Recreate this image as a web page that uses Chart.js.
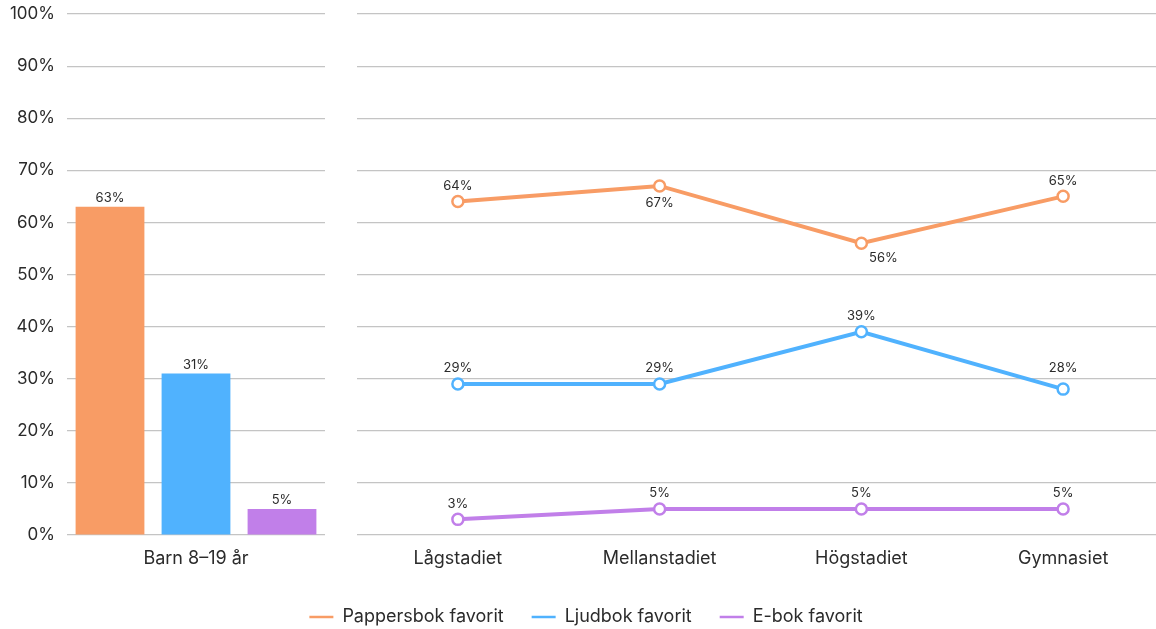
<!DOCTYPE html>
<html>
<head>
    <meta charset='utf-8'>
    <title>Favoritformat</title>
    <style>
        body { margin: 0; background: #fff; overflow: hidden; }
        #wrap { position: relative; width: 1156px; height: 629px; overflow: hidden; }
        #wrap canvas { position: absolute; top: 0; left: 0; }
    </style>
</head>
<body>
    <div id="wrap">
        <canvas id="chart-lines" width="1172" height="629"></canvas>
        <canvas id="chart-bars" width="332" height="629"></canvas>
    </div>

    <script src="https://cdn.jsdelivr.net/npm/chart.js"></script>
    <script>
// data
const barCategory = ['Barn 8–19 år'];
const stadier = ['Lågstadiet', 'Mellanstadiet', 'Högstadiet', 'Gymnasiet'];
const seriesNames = ['Pappersbok favorit', 'Ljudbok favorit', 'E-bok favorit'];
const totalPapper = [63];
const totalLjud = [31];
const totalEbok = [5];
const papper = [64, 67, 56, 65];
const ljud = [29, 29, 39, 28];
const ebok = [3, 5, 5, 5];
const yTicks = [0, 10, 20, 30, 40, 50, 60, 70, 80, 90, 100];

const colors = ['#F89C65', '#50B2FE', '#C17FE9'];
const gridColor = '#C4C4C4';
const textColor = '#2b2b2b';
const fontFamily = "Inter, 'Noto Sans', sans-serif";

// where each value label goes, per point
const papperPos = ['above', 'below', 'belowRight', 'above'];
const ljudPos = ['above', 'above', 'above', 'aboveHigh'];

const valueLabels = {
    id: 'valueLabels',
    afterDatasetsDraw(chart) {
        const ctx = chart.ctx;
        ctx.save();
        ctx.font = '13px ' + fontFamily;
        ctx.fillStyle = textColor;
        chart.data.datasets.forEach((ds, i) => {
            const meta = chart.getDatasetMeta(i);
            meta.data.forEach((el, j) => {
                const pos = (ds.labelPos && ds.labelPos[j]) || 'above';
                const txt = ds.data[j] + '%';
                ctx.textAlign = 'center';
                if (chart.config.type === 'bar') {
                    ctx.textBaseline = 'bottom';
                    ctx.fillText(txt, el.x, el.y - 2);
                } else if (pos === 'above') {
                    ctx.textBaseline = 'bottom';
                    ctx.fillText(txt, el.x, el.y - 9);
                } else if (pos === 'aboveHigh') {
                    ctx.textBaseline = 'bottom';
                    ctx.fillText(txt, el.x, el.y - 15);
                } else if (pos === 'below') {
                    ctx.textBaseline = 'top';
                    ctx.fillText(txt, el.x, el.y + 11);
                } else {
                    ctx.textBaseline = 'top';
                    ctx.fillText(txt, el.x + 22, el.y + 8);
                }
            });
        });
        ctx.restore();
    }
};

const lineSet = (name, values, color, pos) => ({
    label: name,
    data: values,
    borderColor: color,
    backgroundColor: color,
    borderWidth: 4,
    pointRadius: 5.5,
    pointBorderWidth: 2.5,
    pointBackgroundColor: '#fff',
    pointBorderColor: color,
    tension: 0,
    labelPos: pos
});

const lineChart = new Chart(document.getElementById('chart-lines'), {
    type: 'line',
    data: {
        labels: stadier,
        datasets: [
            lineSet(seriesNames[0], papper, colors[0], papperPos),
            lineSet(seriesNames[1], ljud, colors[1], ljudPos),
            lineSet(seriesNames[2], ebok, colors[2])
        ]
    },
    options: {
        responsive: false,
        animation: false,
        layout: { padding: { top: 14, right: 0, bottom: 0, left: 0 } },
        scales: {
            x: {
                offset: true,
                grid: { display: false },
                border: { display: false },
                ticks: { color: textColor, font: { family: fontFamily, size: 18 }, padding: 5 },
                afterFit: s => { s.height = 45; }
            },
            y: {
                min: 0,
                max: 100,
                afterBuildTicks: s => { s.ticks = yTicks.map(v => ({ value: v })); },
                ticks: { display: false },
                grid: { color: gridColor, lineWidth: 1.2, drawTicks: false },
                border: { display: false },
                afterFit: s => { s.width = 357; }
            }
        },
        plugins: {
            legend: {
                position: 'bottom',
                maxHeight: 49,
                labels: {
                    usePointStyle: true,
                    pointStyle: 'line',
                    pointStyleWidth: 24,
                    boxHeight: 14,
                    padding: 28,
                    color: textColor,
                    font: { family: fontFamily, size: 18 }
                }
            },
            tooltip: { enabled: false }
        }
    },
    plugins: [valueLabels]
});

const barChart = new Chart(document.getElementById('chart-bars'), {
    type: 'bar',
    data: {
        labels: barCategory,
        datasets: [
            { label: seriesNames[0], data: totalPapper, backgroundColor: colors[0] },
            { label: seriesNames[1], data: totalLjud, backgroundColor: colors[1] },
            { label: seriesNames[2], data: totalEbok, backgroundColor: colors[2] }
        ]
    },
    options: {
        responsive: false,
        animation: false,
        layout: { padding: { top: 14, right: 7, bottom: 0, left: 0 } },
        datasets: { bar: { categoryPercentage: 1, barPercentage: 0.8 } },
        scales: {
            x: {
                grid: { display: false },
                border: { display: false },
                ticks: { color: textColor, font: { family: fontFamily, size: 18 }, padding: 5 },
                afterFit: s => { s.height = 629 - lineChart.chartArea.bottom; }
            },
            y: {
                min: 0,
                max: 100,
                afterBuildTicks: s => { s.ticks = yTicks.map(v => ({ value: v })); },
                ticks: {
                    color: textColor,
                    font: { family: fontFamily, size: 17 },
                    padding: 12,
                    callback: v => v + '%'
                },
                grid: { color: gridColor, lineWidth: 1.2, drawTicks: false },
                border: { display: false },
                afterFit: s => {
                    s.width = 67;
                    s.paddingTop = 0;
                    s.paddingBottom = 0;
                }
            }
        },
        plugins: {
            legend: { display: false },
            tooltip: { enabled: false }
        }
    },
    plugins: [valueLabels]
});
    </script>
</body>
</html>
